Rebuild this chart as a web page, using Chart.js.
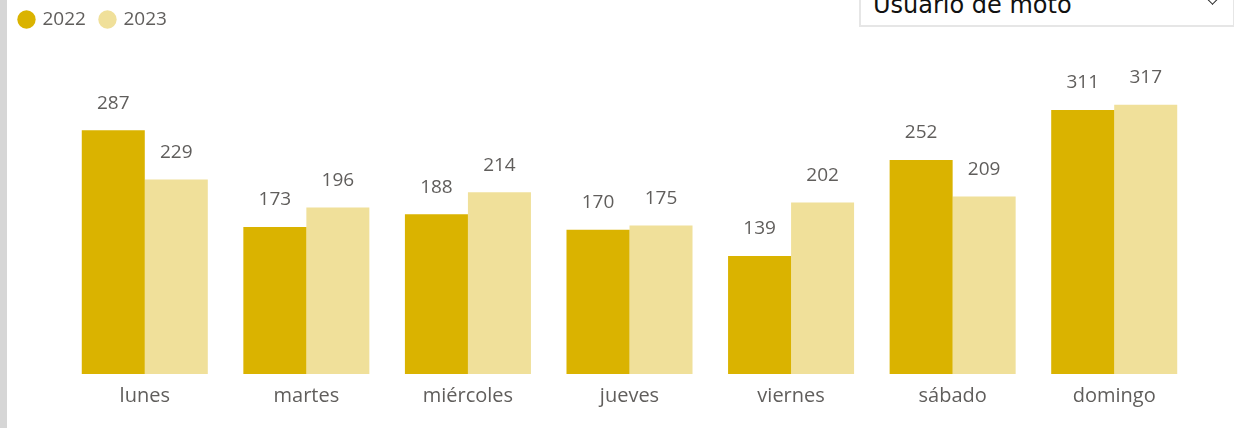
<!DOCTYPE html>
<html lang="es">
<head>
<meta charset="utf-8">
<title>Usuario de moto por día</title>
<script src="https://cdn.jsdelivr.net/npm/chart.js@4/dist/chart.umd.min.js"></script>
<style>
  html, body { margin: 0; padding: 0; background: #fff; }
  #wrap { position: relative; width: 1234px; height: 428px; overflow: hidden; }
  #edge { position: absolute; left: 0; top: 0; width: 7px; height: 428px; background: #d6d6d6; }
  #chart { position: absolute; left: 0; top: 0; }
  #slicer {
    position: absolute; left: 859px; top: -20px; width: 372px; height: 45px;
    border: 2px solid #e6e6e6; border-top: none; background: #fff; box-sizing: content-box;
  }
  #slicer span {
    position: absolute; left: 12px; top: 11px;
    font-family: "DejaVu Sans", sans-serif; font-size: 24px; color: #111;
  }
  #slicer i {
    position: absolute; left: 347px; top: 14px; width: 8px; height: 8px;
    border-right: 1.5px solid #222; border-bottom: 1.5px solid #222; transform: rotate(45deg);
  }
</style>
</head>
<body>
<div id="wrap">
  <div id="edge"></div>
  <canvas id="chart" width="1234" height="428"></canvas>
  <div id="slicer"><span>Usuario de moto</span><i></i></div>
</div>
<script>
"use strict";

const DAYS = ["lunes", "martes", "miércoles", "jueves", "viernes", "sábado", "domingo"];
const V2022 = [287, 173, 188, 170, 139, 252, 311];
const V2023 = [229, 196, 214, 175, 202, 209, 317];

const GOLD = "#DAB300";
const PALE = "#F0E09A";
const TXT = "#605E5C";
const FONT = "'Open Sans', 'Noto Sans', sans-serif";

// etiquetas de valor encima de cada barra
const valueLabels = {
  id: "valueLabels",
  afterDatasetsDraw(chart) {
    const ctx = chart.ctx;
    ctx.save();
    ctx.font = "19px " + FONT;
    ctx.fillStyle = TXT;
    ctx.textAlign = "center";
    ctx.textBaseline = "middle";
    chart.data.datasets.forEach((ds, i) => {
      chart.getDatasetMeta(i).data.forEach((bar, j) => {
        ctx.fillText(String(ds.data[j]), bar.x, bar.y - 27);
      });
    });
    ctx.restore();
  },
};

new Chart(document.getElementById("chart"), {
  type: "bar",
  data: {
    labels: DAYS,
    datasets: [
      { label: "2022", data: V2022, backgroundColor: GOLD },
      { label: "2023", data: V2023, backgroundColor: PALE },
    ],
  },
  options: {
    responsive: false,
    animation: false,
    categoryPercentage: 0.78,
    barPercentage: 1.0,
    layout: { padding: { left: 5, right: 39, top: -5, bottom: 10 } },
    plugins: {
      legend: {
        display: true,
        align: "start",
        labels: {
          color: TXT,
          font: { family: FONT, size: 19 },
          usePointStyle: true,
          pointStyle: "circle",
          boxWidth: 13,
          boxHeight: 13,
          padding: 15,
        },
      },
      tooltip: { enabled: false },
    },
    scales: {
      x: {
        grid: { display: false, drawTicks: false },
        border: { display: false },
        ticks: { color: TXT, font: { family: FONT, size: 20 }, padding: 10 },
      },
      y: {
        min: 0,
        max: 394.5,
        grid: { display: false, drawTicks: false },
        border: { display: false },
        ticks: { display: false },
        afterFit: (s) => { s.width = 59; }, // deja el área de barras en x=64
      },
    },
  },
  plugins: [valueLabels],
});
</script>
</body>
</html>
